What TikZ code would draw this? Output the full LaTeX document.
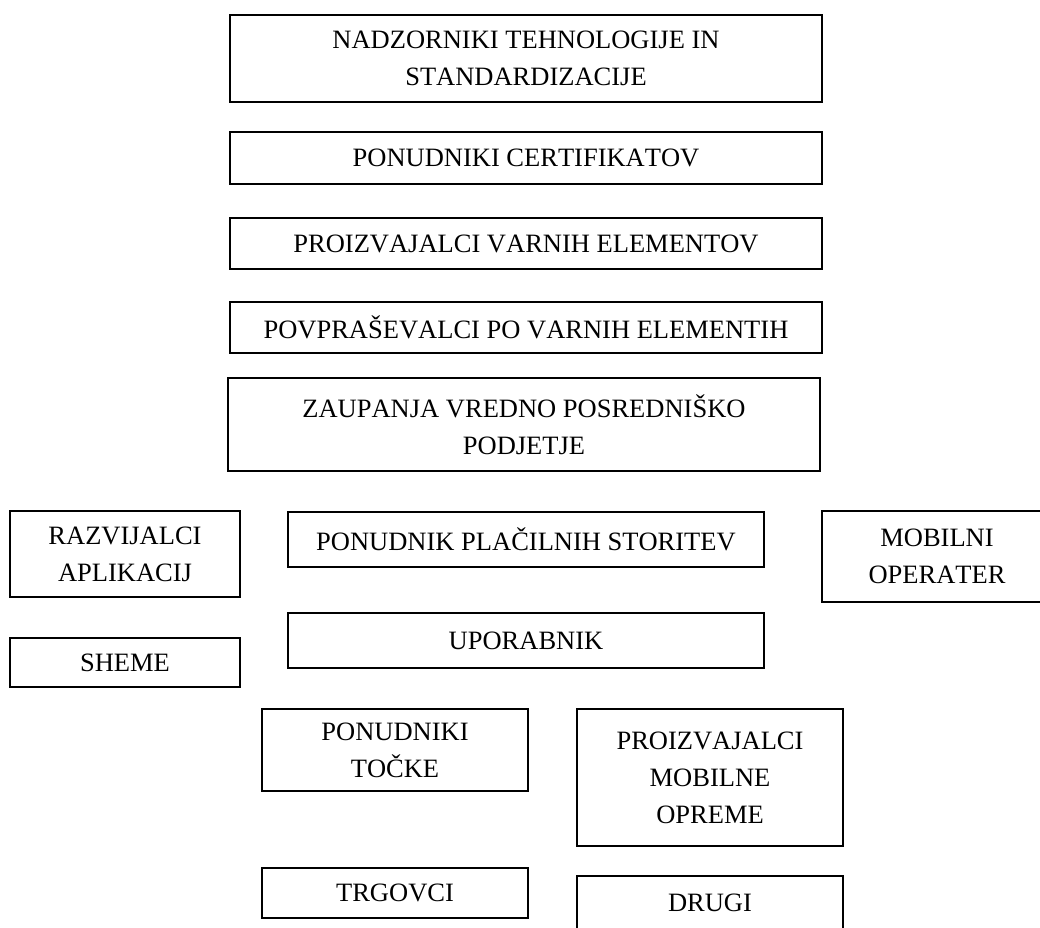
\documentclass[tikz,border=0pt]{standalone}
\usepackage{fontspec}
\setmainfont[Kerning=Off]{Liberation Serif}
\tikzset{
  box/.style={draw=black, line width=1.6pt, rectangle, inner sep=0pt, align=center,
    font=\fontsize{26.5}{37}\selectfont, text=black},
}
\begin{document}
\begin{tikzpicture}[x=1pt,y=-1pt]
\useasboundingbox[fill=white] (0,0) rectangle (1040,927);
\clip (0,0) rectangle (1040,927);
\node[box, minimum width=592pt, minimum height=87pt] (n1) at (526,58.5) {NADZORNIKI TEHNOLOGIJE IN\\STANDARDIZACIJE};
\node[box, minimum width=592pt, minimum height=52pt] (n2) at (526,158) {PONUDNIKI CERTIFIKATOV};
\node[box, minimum width=592pt, minimum height=51pt] (n3) at (526,243.5) {PROIZVAJALCI VARNIH ELEMENTOV};
\node[box, minimum width=592pt, minimum height=51pt] (n4) at (526,327.5) {POVPRAŠEVALCI PO VARNIH ELEMENTIH};
\node[box, minimum width=592pt, minimum height=93pt] (n5) at (524,424.5) {ZAUPANJA VREDNO POSREDNIŠKO\\PODJETJE};
\node[box, minimum width=230pt, minimum height=86pt] (razv) at (125,554) {RAZVIJALCI\\APLIKACIJ};
\node[box, minimum width=476pt, minimum height=55pt] (ppl) at (526,539.5) {PONUDNIK PLAČILNIH STORITEV};
\node[box, minimum width=230pt, minimum height=91pt] (mob) at (937,556.5) {MOBILNI\\OPERATER};
\node[box, minimum width=230pt, minimum height=49pt] (sheme) at (125,662.5) {SHEME};
\node[box, minimum width=476pt, minimum height=55pt] (upo) at (526,640.5) {UPORABNIK};
\node[box, minimum width=266pt, minimum height=82pt] (tocke) at (395,750) {PONUDNIKI\\TOČKE};
\node[box, minimum width=266pt, minimum height=137pt] (proiz) at (710,777.5) {PROIZVAJALCI\\MOBILNE\\OPREME};
\node[box, minimum width=266pt, minimum height=50pt] (trg) at (395,893) {TRGOVCI};
\node[box, minimum width=266pt, minimum height=54pt] (drugi) at (710,903) {DRUGI};
\end{tikzpicture}
\end{document}
